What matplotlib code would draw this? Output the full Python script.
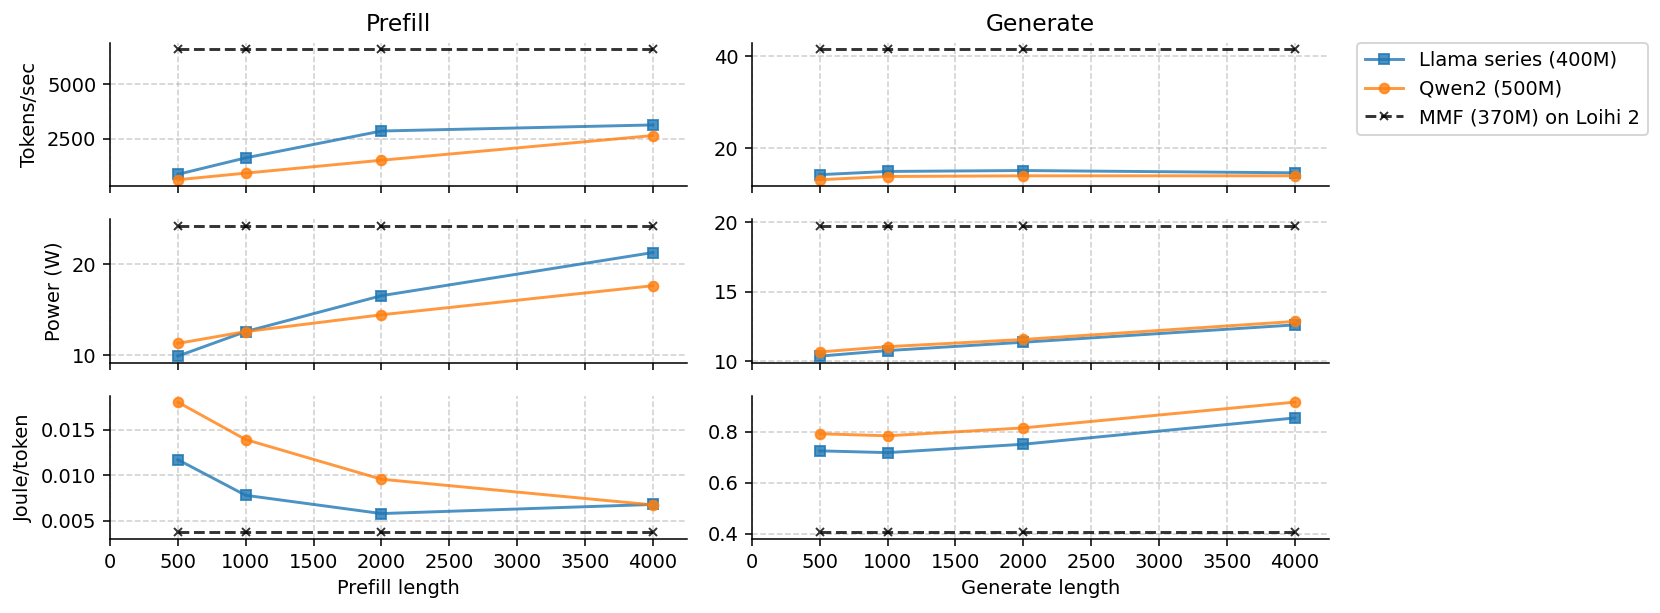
import matplotlib
matplotlib.use("Agg")
import matplotlib.pyplot as plt

lengths = [500, 1000, 2000, 4000]

# Prefill
prefill_tps_llama = [850, 1610, 2850, 3130]
prefill_tps_qwen = [600, 905, 1500, 2640]
prefill_tps_mmf = [6620, 6620, 6620, 6620]

prefill_power_llama = [9.9, 12.6, 16.55, 21.3]
prefill_power_qwen = [11.3, 12.6, 14.45, 17.65]
prefill_power_mmf = [24.25, 24.25, 24.25, 24.25]

prefill_jpt_llama = [0.0117, 0.0078, 0.0058, 0.0068]
prefill_jpt_qwen = [0.0180, 0.0139, 0.00956, 0.00675]
prefill_jpt_mmf = [0.00373, 0.00373, 0.00373, 0.00373]

# Generate
gen_tps_llama = [14.3, 15.0, 15.2, 14.7]
gen_tps_qwen = [13.2, 13.9, 14.05, 14.05]
gen_tps_mmf = [41.5, 41.5, 41.5, 41.5]

gen_power_llama = [10.35, 10.75, 11.35, 12.6]
gen_power_qwen = [10.65, 11.03, 11.55, 12.85]
gen_power_mmf = [19.75, 19.75, 19.75, 19.75]

gen_jpt_llama = [0.725, 0.718, 0.751, 0.854]
gen_jpt_qwen = [0.792, 0.784, 0.815, 0.916]
gen_jpt_mmf = [0.405, 0.405, 0.405, 0.405]

labels = ["Llama series (400M)", "Qwen2 (500M)", "MMF (370M) on Loihi 2"]
ylabels = ["Tokens/sec", "Power (W)", "Joule/token"]

data = [
    [(prefill_tps_llama, prefill_tps_qwen, prefill_tps_mmf),
     (gen_tps_llama, gen_tps_qwen, gen_tps_mmf)],
    [(prefill_power_llama, prefill_power_qwen, prefill_power_mmf),
     (gen_power_llama, gen_power_qwen, gen_power_mmf)],
    [(prefill_jpt_llama, prefill_jpt_qwen, prefill_jpt_mmf),
     (gen_jpt_llama, gen_jpt_qwen, gen_jpt_mmf)],
]

fig, axes = plt.subplots(3, 2, figsize=(11.864, 4.379), dpi=140, sharex="col")
fig.subplots_adjust(left=0.0662, right=0.800, top=0.930, bottom=0.1207,
                    wspace=0.1127, hspace=0.23)

for r in range(3):
    for c in range(2):
        ax = axes[r, c]
        llama, qwen, mmf = data[r][c]
        ax.plot(lengths, llama, marker="s", markersize=5, color="tab:blue",
                alpha=0.8, lw=1.5, label=labels[0])
        ax.plot(lengths, qwen, marker="o", markersize=5, color="tab:orange",
                alpha=0.8, lw=1.5, label=labels[1])
        ax.plot(lengths, mmf, marker="x", markersize=4, color="black",
                ls="--", alpha=0.8, lw=1.5, label=labels[2])
        ax.grid(True, ls="--", alpha=0.6)
        ax.spines["top"].set_visible(False)
        ax.spines["right"].set_visible(False)
        ax.set_xticks(range(0, 4001, 500))
        ax.set_xlim(0, 4250)
        if c == 0:
            ax.set_ylabel(ylabels[r])

axes[0, 0].set_yticks([2500, 5000])
axes[0, 1].set_yticks([20, 40])
axes[1, 0].set_yticks([10, 20])
axes[1, 1].set_yticks([10, 15, 20])
axes[2, 0].set_yticks([0.005, 0.010, 0.015])
axes[2, 1].set_yticks([0.4, 0.6, 0.8])

axes[0, 0].set_title("Prefill", fontsize=12)
axes[0, 1].set_title("Generate", fontsize=12)
axes[2, 0].set_xlabel("Prefill length")
axes[2, 1].set_xlabel("Generate length")

axes[0, 1].legend(loc="upper left", bbox_to_anchor=(1.0485, 1.0), borderaxespad=0)

fig.savefig("out.png", dpi=140)
